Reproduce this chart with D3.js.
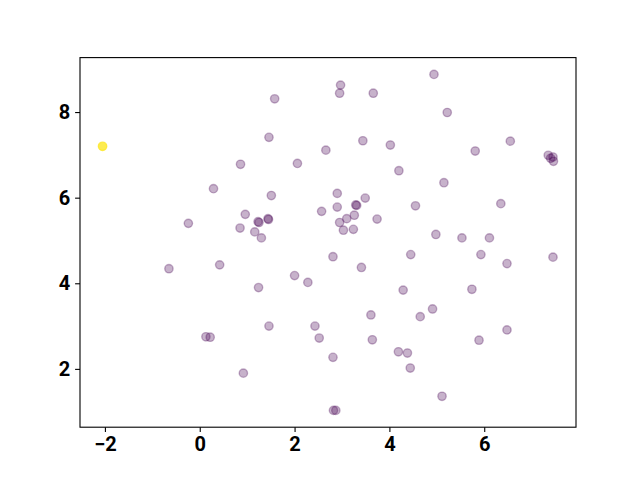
<!DOCTYPE html>
<html>
<head>
<meta charset="utf-8">
<script src="https://cdn.jsdelivr.net/npm/d3@7"></script>
<style>
  body { margin: 0; background: #fff; }
  .tick text { font-family: Roboto, "DejaVu Sans", sans-serif; font-weight: bold; font-size: 20px; fill: #000; }
  .tick line { stroke: #000; stroke-width: 1.1; }
</style>
</head>
<body>
<script>
// point coordinates
const xs = [
  -2.05, 1.58, 2.97, 2.95, 3.66, 4.94, 5.22, 1.46, 3.44, 4.02,
  5.81, 6.55, 2.66, 2.06, 0.86, 4.20, 0.29, 5.15, 1.51, 2.90,
  3.49, 3.29, 3.31, 2.90, 2.57, 4.55, 6.35, 0.96, -0.24, 1.23,
  1.25, 1.44, 1.45, 3.26, 3.10, 2.95, 3.74, 0.85, 1.16, 1.30,
  3.03, 3.24, 4.98, 5.53, 6.11, 7.35, 7.45, 7.46, 7.40, 7.45,
  5.93, 6.48, 4.45, 2.81, 3.41, -0.65, 0.42, 2.00, 2.28, 5.74,
  4.29, 1.24, 4.91, 4.65, 3.61, 1.46, 2.43, 6.48, 0.13, 0.22,
  2.52, 3.64, 5.89, 4.19, 4.38, 2.81, 4.44, 0.92, 5.11, 2.82,
  2.87
];
const ys = [
  7.20, 8.31, 8.63, 8.44, 8.44, 8.88, 7.99, 7.41, 7.33, 7.23,
  7.09, 7.32, 7.11, 6.80, 6.78, 6.63, 6.21, 6.35, 6.05, 6.10,
  5.99, 5.83, 5.82, 5.78, 5.68, 5.81, 5.86, 5.61, 5.40, 5.44,
  5.42, 5.51, 5.49, 5.59, 5.51, 5.42, 5.50, 5.29, 5.20, 5.06,
  5.24, 5.26, 5.14, 5.06, 5.06, 6.99, 6.95, 6.85, 6.92, 4.61,
  4.67, 4.46, 4.67, 4.62, 4.37, 4.34, 4.43, 4.18, 4.02, 3.86,
  3.84, 3.90, 3.40, 3.22, 3.26, 3.00, 3.00, 2.91, 2.75, 2.74,
  2.72, 2.68, 2.67, 2.40, 2.37, 2.27, 2.02, 1.90, 1.36, 1.03,
  1.03
];
// 1 = the odd one out (yellow), 0 = the rest
const groups = xs.map((x, i) => i === 0 ? 1 : 0);

const xTicks = [-2, 0, 2, 4, 6];
const yTicks = [2, 4, 6, 8];

let margin = {top: 57.6, right: 64, bottom: 52.8, left: 80},
    width  = 640 - margin.left - margin.right,
    height = 480 - margin.top  - margin.bottom;

// matplotlib style 5% padding around the data
function padded(values) {
  let [lo, hi] = d3.extent(values);
  let pad = (hi - lo) * 0.05;
  return [lo - pad, hi + pad];
}

let svg = d3.select("body").append("svg")
    .attr("width", 640)
    .attr("height", 480)
  .append("g")
    .attr("transform", `translate(${margin.left}, ${margin.top})`);

let xScale = d3.scaleLinear().domain(padded(xs)).range([0, width]);
let yScale = d3.scaleLinear().domain(padded(ys)).range([height, 0]);

let color = d3.scaleOrdinal().domain([0, 1]).range(["#440154", "#fde725"]);
let alpha = d3.scaleOrdinal().domain([0, 1]).range([0.3, 0.8]);

let fmt = d => d < 0 ? "\u2212" + Math.abs(d) : String(d);

svg.append("g")
    .attr("transform", `translate(0, ${height})`)
    .call(d3.axisBottom(xScale).tickValues(xTicks).tickFormat(fmt).tickSize(4.9).tickPadding(4.9))
    .call(g => g.select(".domain").remove());

svg.append("g")
    .call(d3.axisLeft(yScale).tickValues(yTicks).tickFormat(fmt).tickSize(4.9).tickPadding(4.9))
    .call(g => g.select(".domain").remove());

svg.append("g")
  .selectAll("circle")
  .data(xs.map((x, i) => ({x: x, y: ys[i], g: groups[i]})))
  .enter()
    .append("circle")
    .attr("cx", d => xScale(d.x))
    .attr("cy", d => yScale(d.y))
    .attr("r", 4.17)
    .attr("fill", d => color(d.g))
    .attr("fill-opacity", d => alpha(d.g))
    .attr("stroke", d => color(d.g))
    .attr("stroke-opacity", d => alpha(d.g))
    .attr("stroke-width", 1.39);

svg.append("rect")
    .attr("width", width)
    .attr("height", height)
    .attr("fill", "none")
    .attr("stroke", "#000")
    .attr("stroke-width", 1.1);
</script>
</body>
</html>
